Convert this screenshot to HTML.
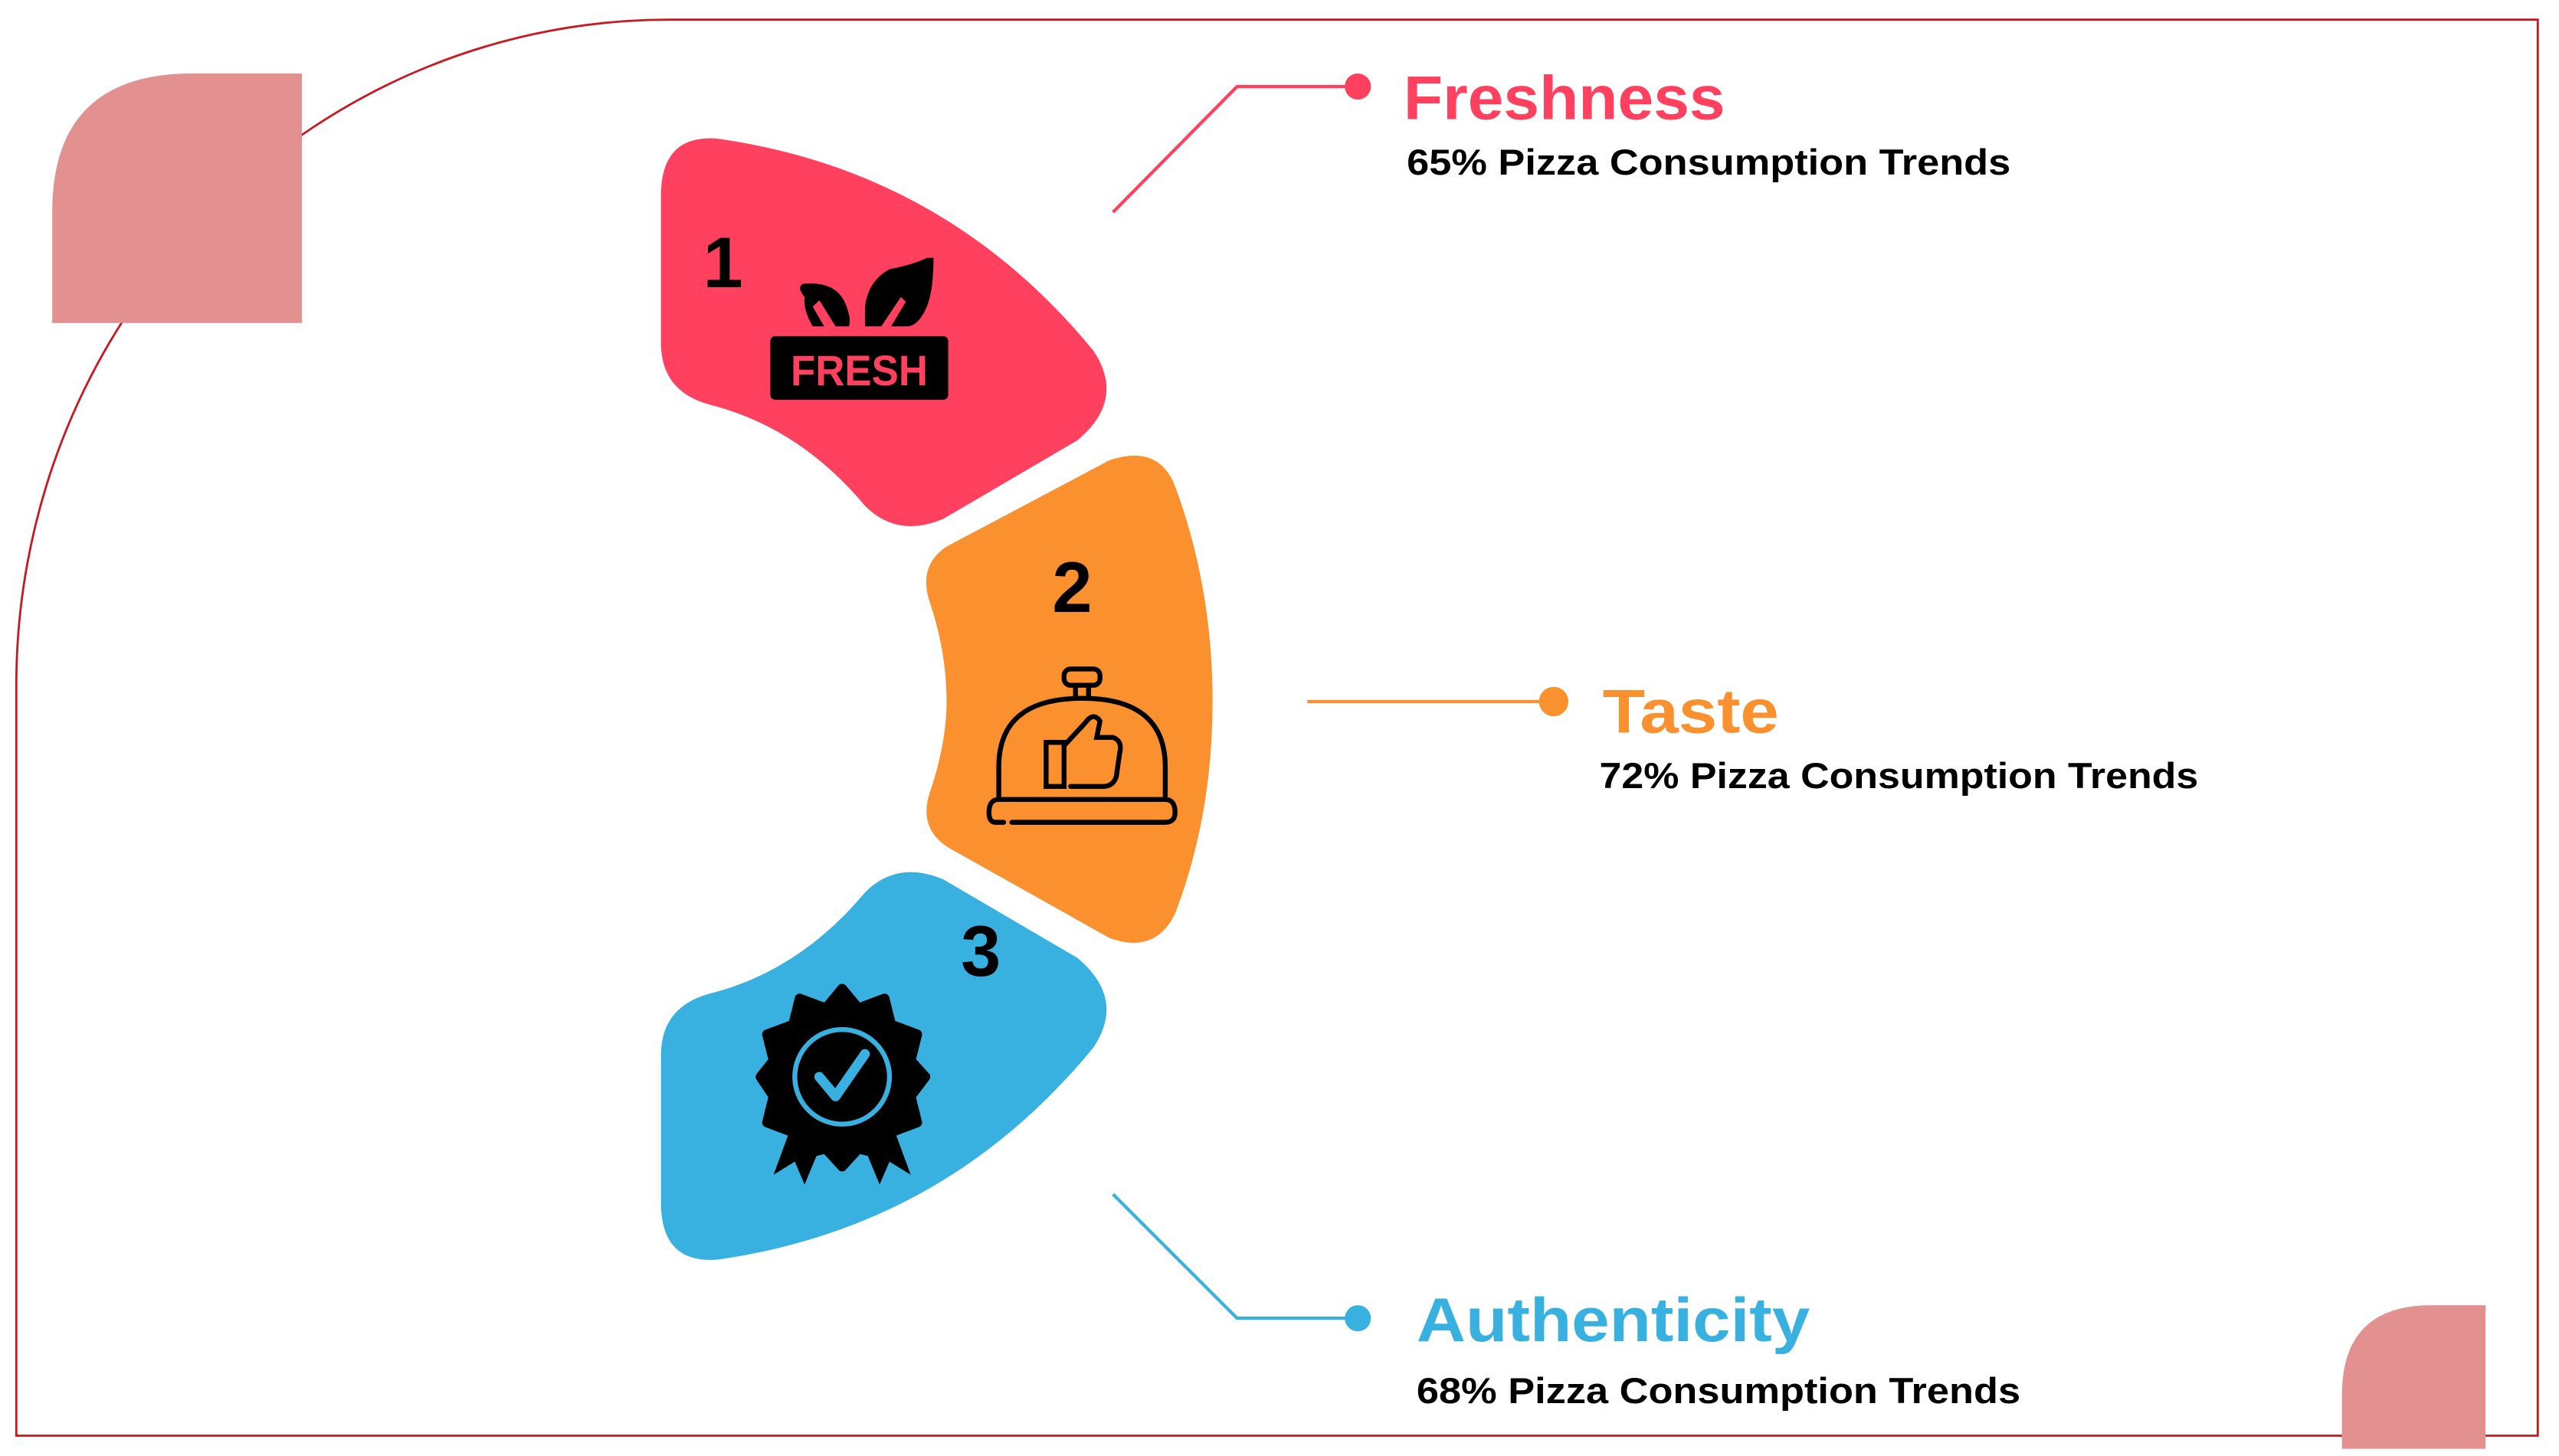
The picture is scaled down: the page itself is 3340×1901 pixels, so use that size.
<!DOCTYPE html>
<html><head><meta charset="utf-8"><style>
html,body{margin:0;padding:0;background:#fff;}
svg{display:block;}
text{font-family:"Liberation Sans",sans-serif;font-weight:bold;}
</style></head><body>
<svg width="3340" height="1901" viewBox="0 0 1568 892.4" xmlns="http://www.w3.org/2000/svg">
<rect width="1568" height="893" fill="#fff"/>
<!-- border -->
<path d="M10,880 L10,420 A400 408 0 0 1 410,12 L1555,12 L1555,880 Z" fill="none" stroke="#c8171e" stroke-width="1.3"/>
<!-- pink decor -->
<path d="M32,198 L32,130 Q32,45 118,45 L185,45 L185,198 Z" fill="#e39090"/>
<path d="M1435,888 L1435,855 Q1435,800 1490,800 L1523,800 L1523,888 Z" fill="#e39090"/>
<!-- shape 1 red -->
<path d="M440,85 Q580,105 670,215 Q690,245 660,270 L578,318 Q550,330 530,310 Q490,262 435,248 Q405,240 405,210 L405,120 Q405,82 440,85 Z" fill="#ff405f"/>
<!-- shape 2 orange -->
<path d="M580,335 L680,282 Q710,272 720,298 Q743,360 743,430 Q743,500 720,560 Q708,585 680,575 L582,520 Q562,508 570,485 Q580,455 580,430 Q580,400 570,370 Q562,347 580,335 Z" fill="#fb902e"/>
<!-- shape 3 blue -->
<path d="M440,772 Q580,752 670,642 Q690,612 660,587 L578,539 Q550,527 530,547 Q490,595 435,609 Q405,617 405,647 L405,737 Q405,775 440,772 Z" fill="#38b1e1"/>
<!-- numbers -->
<text x="443" y="176" font-size="44" text-anchor="middle">1</text>
<text x="657" y="375" font-size="44" text-anchor="middle">2</text>
<text x="601" y="598" font-size="44" text-anchor="middle">3</text>
<!-- fresh icon -->
<rect x="472" y="206" width="109" height="39" rx="3" fill="#000"/>
<text x="526.5" y="236" font-size="26" fill="#ff405f" text-anchor="middle" textLength="84" lengthAdjust="spacingAndGlyphs">FRESH</text>
<path d="M492,174 Q512,172 518,186 Q522,196 520,200 L512,200 L502,184 L498,188 L505,200 L498,200 Q492,190 493,182 Q488,176 492,174 Z" fill="#000"/>
<path d="M572,158 Q572,180 567,190 Q562,200 556,200 L546,200 L555,185 L552,182 L540,200 L530,200 L530,188 Q532,172 545,165 Q560,162 568,158 Z" fill="#000"/>
<!-- cloche icon -->
<g fill="none" stroke="#000" stroke-width="3" stroke-linecap="round">
<rect x="652" y="410" width="22" height="10" rx="4"/>
<line x1="659" y1="420" x2="659" y2="428"/><line x1="667" y1="420" x2="667" y2="428"/>
<path d="M612,488 L612,470 Q612,428 663,428 Q714,428 714,470 L714,488"/>
<path d="M615,504 L610,504 Q606,504 606,498 Q606,490 612,490 L714,490 Q720,490 720,498 Q720,504 714,504 L620,504"/>
<path d="M641,482 L641,455 L652,455 L652,482 Z"/>
<path d="M652,457 L665,443 Q670,436 674,442 L672,452 L682,452 Q688,454 686,462 L684,476 Q682,482 676,482 L656,482"/>
</g>
<!-- badge icon -->
<path d="M516,606 L526,618 L542,612 L546,628 L562,634 L558,650 L567,660 L558,672 L562,688 L546,694 L542,708 L526,704 L516,715 L506,704 L490,708 L486,694 L470,688 L474,672 L466,660 L474,650 L470,634 L486,628 L490,612 L506,618 Z" fill="#000" stroke="#000" stroke-width="6" stroke-linejoin="round"/>
<circle cx="516" cy="660" r="29" fill="none" stroke="#38b1e1" stroke-width="3"/>
<path d="M502,660 L512,672 L530,646" fill="none" stroke="#38b1e1" stroke-width="6" stroke-linecap="round" stroke-linejoin="round"/>
<path d="M485,690 L474,720 L487,712 L493,726 L503,702 Z" fill="#000"/>
<path d="M547,690 L558,720 L545,712 L539,726 L529,702 Z" fill="#000"/>
<!-- connectors -->
<polyline points="682,130 758,53 832,53" fill="none" stroke="#ff405f" stroke-width="2"/>
<circle cx="832" cy="53" r="8" fill="#ff405f"/>
<line x1="801" y1="430" x2="952" y2="430" stroke="#fb902e" stroke-width="2"/>
<circle cx="952" cy="430" r="9" fill="#fb902e"/>
<polyline points="682,732 758,808 832,808" fill="none" stroke="#38b1e1" stroke-width="2"/>
<circle cx="832" cy="808" r="8" fill="#38b1e1"/>
<!-- labels -->
<text x="860" y="73" font-size="38" fill="#ff405f" textLength="197" lengthAdjust="spacingAndGlyphs">Freshness</text>
<text x="862" y="107" font-size="22" fill="#000" textLength="370" lengthAdjust="spacingAndGlyphs">65% Pizza Consumption Trends</text>
<text x="982" y="449" font-size="38" fill="#fb902e" textLength="108" lengthAdjust="spacingAndGlyphs">Taste</text>
<text x="980" y="483" font-size="22" fill="#000" textLength="367" lengthAdjust="spacingAndGlyphs">72% Pizza Consumption Trends</text>
<text x="868" y="822" font-size="38" fill="#38b1e1" textLength="241" lengthAdjust="spacingAndGlyphs">Authenticity</text>
<text x="868" y="860" font-size="22" fill="#000" textLength="370" lengthAdjust="spacingAndGlyphs">68% Pizza Consumption Trends</text>
</svg>
</body></html>
